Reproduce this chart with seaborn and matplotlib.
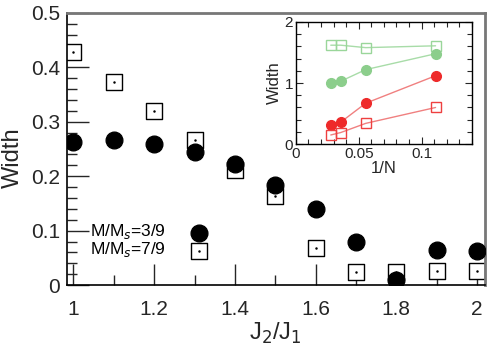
import numpy as np
import pandas as pd
import matplotlib
matplotlib.use('Agg')
import matplotlib.pyplot as plt
from matplotlib.ticker import MultipleLocator
import seaborn as sns

# main panel data
j_ratio = [1.0, 1.1, 1.2, 1.3, 1.4, 1.5, 1.6, 1.7, 1.8, 1.9, 2.0]
width_3_9 = [0.263, 0.267, 0.260, 0.245, 0.222, 0.184, 0.139, 0.080, 0.010, 0.064, 0.062]
width_7_9 = [0.429, 0.374, 0.320, 0.267, 0.211, 0.164, 0.069, 0.024, 0.024, 0.026, 0.026]

# inset data (finite size scaling)
inv_n = [1/36, 1/28, 1/18, 1/9]
green_sq = [1.62, 1.62, 1.58, 1.61]
green_dot = [1.00, 1.03, 1.22, 1.48]
red_dot = [0.32, 0.36, 0.67, 1.12]
red_sq = [0.15, 0.19, 0.34, 0.60]

sns.set_style('ticks')
plt.rcParams['font.family'] = ['Liberation Sans', 'DejaVu Sans']

fig = plt.figure(figsize=(4.89, 3.49), dpi=100)
ax = fig.add_axes([0.137, 0.183, 0.855, 0.78])

df = pd.DataFrame({'J': j_ratio, 'w39': width_3_9, 'w79': width_7_9})
sns.scatterplot(data=df, x='J', y='w39', ax=ax, color='black', marker='o',
                s=145, edgecolor='black', zorder=3)
sns.scatterplot(data=df, x='J', y='w79', ax=ax, marker='s', s=120,
                facecolor='white', edgecolor='black', linewidth=1.0, zorder=2)
# little dot in the middle of the squares
ax.scatter(j_ratio, width_7_9, s=0.6, color='black', zorder=4)

ax.set_xlim(0.984, 2.02)
ax.set_ylim(0, 0.5)
ax.xaxis.set_minor_locator(MultipleLocator(0.1))
ax.yaxis.set_minor_locator(MultipleLocator(0.02))
ax.set_xticks([1, 1.2, 1.4, 1.6, 1.8, 2], ['1', '1.2', '1.4', '1.6', '1.8', '2'])
ax.set_yticks([0, 0.1, 0.2, 0.3, 0.4, 0.5], ['0', '0.1', '0.2', '0.3', '0.4', '0.5'])
ax.tick_params(axis='x', which='major', direction='in', length=15, width=1,
               labelsize=15, pad=11, top=False)
ax.tick_params(axis='y', which='major', direction='in', length=16, width=1,
               labelsize=15, pad=5, right=False)
ax.tick_params(axis='both', which='minor', direction='in', length=7.5, width=1,
               top=False, right=False)
for s in ['left', 'bottom']:
    ax.spines[s].set_color('black')
    ax.spines[s].set_linewidth(1.2)
for s in ['top', 'right']:
    ax.spines[s].set_color('#777777')
    ax.spines[s].set_linewidth(2)
ax.set_xlabel('J$_2$/J$_1$', fontsize=17, va='center')
ax.set_ylabel('Width', fontsize=17, va='center')
ax.xaxis.set_label_coords(0.498, -0.176)
ax.yaxis.set_label_coords(-0.129, 0.467)

# legend drawn as text + markers
ax.text(1.04, 0.099, 'M/M$_s$=3/9', fontsize=12.5, va='center', ha='left', color='black')
ax.text(1.04, 0.066, 'M/M$_s$=7/9', fontsize=12.5, va='center', ha='left', color='black')
ax.scatter([1.31], [0.095], s=145, color='black', zorder=3)
ax.scatter([1.31], [0.062], s=120, marker='s', facecolor='white',
           edgecolor='black', linewidth=1.0, zorder=3)
ax.scatter([1.31], [0.062], s=0.6, color='black', zorder=4)

# inset
ins = fig.add_axes([0.605, 0.587, 0.36, 0.35])
green_line = '#a8dca8'
red_line = '#f08080'
ins.plot(inv_n, green_sq, color=green_line, lw=1, marker='s', ms=7,
         mfc='none', mec='#9ad69a', mew=1)
ins.plot(inv_n, green_dot, color=green_line, lw=1, marker='o', ms=7,
         mfc='#8cce8c', mec='#8cce8c')
ins.plot(inv_n, red_dot, color=red_line, lw=1, marker='o', ms=7,
         mfc='#ee2a2a', mec='#ee2a2a')
ins.plot(inv_n, red_sq, color=red_line, lw=1, marker='s', ms=7,
         mfc='none', mec='#ee4040', mew=1)
ins.set_xlim(0, 0.14)
ins.set_ylim(0, 2)
ins.xaxis.set_minor_locator(MultipleLocator(0.01))
ins.yaxis.set_minor_locator(MultipleLocator(0.2))
ins.set_xticks([0, 0.05, 0.1], ['0', '0.05', '0.1'])
ins.set_yticks([0, 1, 2], ['0', '1', '2'])
ins.tick_params(axis='both', which='major', direction='in', length=5, width=0.8,
                labelsize=11, pad=2, top=True, right=True)
ins.tick_params(axis='both', which='minor', direction='in', length=3.5, width=0.8,
                top=True, right=True)
for s in ins.spines.values():
    s.set_color('black')
    s.set_linewidth(1)
ins.set_xlabel('1/N', fontsize=12, labelpad=0)
ins.set_ylabel('Width', fontsize=12, labelpad=2)

fig.savefig('out.png', dpi=100)
